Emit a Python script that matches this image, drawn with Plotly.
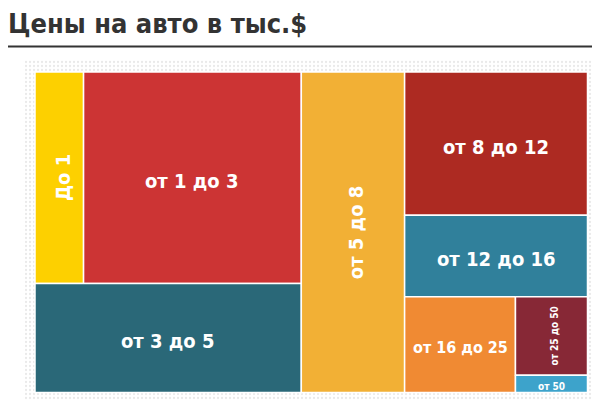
import plotly.graph_objects as go

# price bands (thousand $) and their share
labels = ["До 1", "от 1 до 3", "от 3 до 5", "от 5 до 8", "от 8 до 12",
          "от 12 до 16", "от 16 до 25", "от 25 до 50", "от 50"]
shares = [5.8, 26.0, 16.4, 18.7, 14.8, 8.4, 6.0, 3.2, 0.7]
colors = ["#FDD000", "#CC3434", "#2A6878", "#F2B035", "#AD2A22",
          "#30809B", "#F08A33", "#872836", "#3DA3CB"]

# grouping of the cells (slice-and-dice, first level split into columns)
tree = [[[0, 1], 2], 3, [4, 5, [6, [7, 8]]]]

font_sizes = [20, 20, 20, 20, 20, 20, 16, 10, 10]
FONT = "Liberation Sans Narrow, DejaVu Sans Condensed, sans-serif"

# page body has an 8px margin, so the figure sits at (8, 8) and the axes
# are in window pixels
BOX = (35, 72, 587.5, 392.5)


def total(node):
    if isinstance(node, int):
        return shares[node]
    return sum(total(c) for c in node)


def slice_dice(node, x0, y0, x1, y1, horizontal, out):
    if isinstance(node, int):
        out[node] = (x0, y0, x1, y1)
        return
    t = total(node)
    pos = x0 if horizontal else y0
    for child in node:
        frac = total(child) / t
        if horizontal:
            end = pos + (x1 - x0) * frac
            slice_dice(child, pos, y0, end, y1, False, out)
        else:
            end = pos + (y1 - y0) * frac
            slice_dice(child, x0, pos, x1, end, True, out)
        pos = end


rects = {}
slice_dice(tree, *BOX, True, rects)

fig = go.Figure()

# dotted backdrop
fig.add_trace(go.Scatter(
    x=[23, 600, 600, 23, 23], y=[60, 60, 400, 400, 60],
    mode="lines", fill="toself", line=dict(width=0),
    fillcolor="white",
    fillpattern=dict(shape=".", fgcolor="#d4d4d4", bgcolor="white", size=4, solidity=0.25),
    hoverinfo="skip", showlegend=False,
))

annotations = []
for i, lab in enumerate(labels):
    x0, y0, x1, y1 = rects[i]
    fig.add_trace(go.Scatter(
        x=[x0, x1, x1, x0, x0], y=[y0, y0, y1, y1, y0],
        mode="lines", fill="toself", fillcolor=colors[i],
        line=dict(color="white", width=1.5),
        name=lab, hoveron="fills", showlegend=False,
        text=f"{lab}: {shares[i]}%", hoverinfo="text",
    ))
    rotate = (x1 - x0) < (y1 - y0)
    annotations.append(dict(
        x=(x0 + x1) / 2, y=(y0 + y1) / 2, xref="x", yref="y",
        text=lab, showarrow=False,
        textangle=-90 if rotate else 0,
        xshift=3 if rotate else 0, yshift=0 if rotate else -3,
        font=dict(family=FONT, size=font_sizes[i], color="white", weight=700),
    ))

annotations.append(dict(
    x=8, y=23, xref="x", yref="y", xanchor="left", yanchor="middle",
    xshift=-2, text="Цены на авто в тыс.$", showarrow=False,
    font=dict(family=FONT, size=27, color="#333333", weight=700),
))

fig.add_shape(type="line", x0=8, x1=600, y0=46.5, y1=46.5, xref="x", yref="y",
              line=dict(color="#333333", width=2))

fig.update_layout(
    width=592, height=392,
    margin=dict(l=0, r=0, t=0, b=0),
    paper_bgcolor="white", plot_bgcolor="white",
    xaxis=dict(range=[8, 600], visible=False, fixedrange=True),
    yaxis=dict(range=[400, 8], visible=False, fixedrange=True),
    annotations=annotations,
    hoverlabel=dict(font=dict(family=FONT)),
)

fig.write_html("out.html")
